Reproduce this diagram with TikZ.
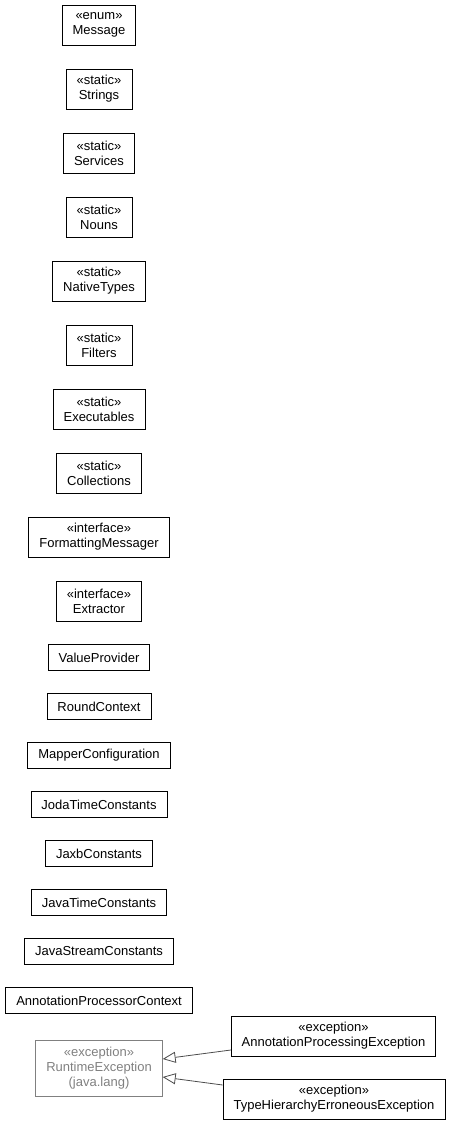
\documentclass[tikz,border=0pt]{standalone}
\usepackage{fontspec}
\setmainfont{Liberation Sans}
\usetikzlibrary{arrows.meta}
\tikzset{
  cls/.style={draw, line width=0.8pt, font=\fontsize{13}{15}\selectfont, align=center,
    inner xsep=10.5pt, inner ysep=2pt, minimum height=26pt},
  stereo/.style={cls, minimum height=40pt},
  ext/.style={cls, draw=gray, text=gray, minimum height=56pt},
  gen/.style={draw=black!70, line width=0.8pt, -{Triangle[open, length=13pt, width=11pt, fill=white]}}
}
\begin{document}
\begin{tikzpicture}[x=1pt, y=-1pt]
        \useasboundingbox (0,0) rectangle (451,1125);
        \foreach \nm/\st/\lbl [count=\i] in {message/enum/Message, strings/static/Strings,
            services/static/Services, nouns/static/Nouns, nativetypes/static/NativeTypes,
            filters/static/Filters, executables/static/Executables, collections/static/Collections,
            fmtmessager/interface/FormattingMessager, extractor/interface/Extractor}{%
            \node[stereo] (\nm) at (99, {25+64*(\i-1)}) {«\st»\\\lbl};%
        }
        \foreach \nm/\lbl [count=\i] in {valueprovider/ValueProvider, roundctx/RoundContext,
            mapperconf/MapperConfiguration, jodatime/JodaTimeConstants, jaxb/JaxbConstants,
            javatime/JavaTimeConstants, javastream/JavaStreamConstants,
            apctx/AnnotationProcessorContext}{%
            \node[cls] (\nm) at (99, {657.5+49*(\i-1)}) {\lbl};%
        }
        \node[ext] (runtimeex) at (99,1068) {«exception»\\RuntimeException\\(java.lang)};
        \node[stereo] (apex) at (333.5,1036) {«exception»\\AnnotationProcessingException};
        \node[stereo] (thex) at (334,1099) {«exception»\\TypeHierarchyErroneousException};
        \draw[gen] ([yshift=-14pt]apex.west) -- ([yshift=9pt]runtimeex.east);
        \draw[gen] ([yshift=14pt]thex.west) -- ([yshift=-9pt]runtimeex.east);
    \end{tikzpicture}
\end{document}
